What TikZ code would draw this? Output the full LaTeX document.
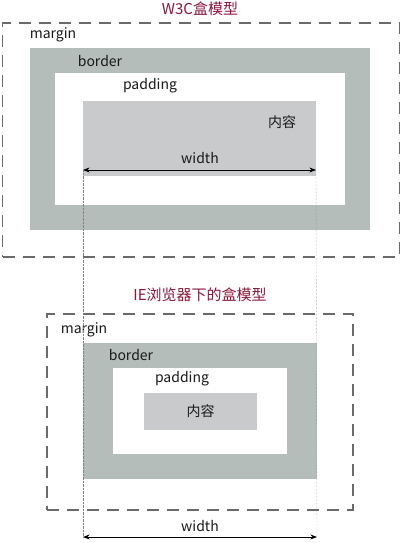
\documentclass[tikz,border=0pt]{standalone}
\usepackage{fontspec}
\setmainfont{Noto Sans CJK SC}
\usepackage{tikz}
\usetikzlibrary{positioning,calc,arrows.meta}
\definecolor{borderbg}{HTML}{b4bdb9}
\definecolor{contentbg}{HTML}{c9cacc}
\definecolor{titlered}{HTML}{8a1538}
\definecolor{dashgray}{HTML}{6a6a6a}

\begin{document}
\begin{tikzpicture}[x=1pt, y=-1pt, >=Stealth, font=\fontsize{14}{16}\selectfont]
  \useasboundingbox (0,0) rectangle (400,543);
  \tikzset{
    marginbox/.style={draw=dashgray, line width=1.3pt, dash pattern=on 12pt off 8pt, inner sep=0pt},
    borderbox/.style={fill=borderbg, inner sep=0pt},
    paddingbox/.style={fill=white, inner sep=0pt},
    contentbox/.style={fill=contentbg, inner sep=0pt},
    lbl/.style={inner sep=0pt, text=black!90},
    ttl/.style={inner sep=0pt, text=titlered, font=\fontsize{15}{17}\selectfont}
  }

  % W3C box model
  \node[ttl] (title1) at (200, 9) {W3C盒模型};
  \node[marginbox, minimum width=397, minimum height=234] (margin1) at (201, 140) {};
  \node[borderbox, minimum width=340, minimum height=182] (border1) at (200, 139) {};
  \node[paddingbox, minimum width=290, minimum height=132] (padding1) at (200, 139) {};
  \node[contentbox, minimum width=233, minimum height=75] (content1) at (199.5, 138.5) {};
  \node[lbl] (mlabel1) at (53, 35) {margin};
  \node[lbl] (blabel1) at (100, 61) {border};
  \node[lbl] (plabel1) at (150, 86) {padding};
  \node[lbl] (clabel1) at (282, 122) {内容};
  \node[lbl] (wlabel1) at (200, 158) {width};
  \coordinate (wl1) at (83, 170);
  \coordinate (wr1) at (316, 170);
  \draw[thick, <->] (wl1) -- (wr1);

  % IE box model
  \node[ttl] (title2) at (200, 295) {IE浏览器下的盒模型};
  \node[marginbox, minimum width=306, minimum height=196] (margin2) at (200, 412) {};
  \node[borderbox, minimum width=234, minimum height=136] (border2) at (200, 411) {};
  \node[paddingbox, minimum width=174, minimum height=86] (padding2) at (200, 411) {};
  \node[contentbox, minimum width=113, minimum height=37] (content2) at (200.5, 411.5) {};
  \node[lbl] (mlabel2) at (84, 330) {margin};
  \node[lbl] (blabel2) at (131, 355) {border};
  \node[lbl] (plabel2) at (182, 379) {padding};
  \node[lbl] (clabel2) at (content2) {内容};
  \node[lbl] (wlabel2) at (200, 526) {width};
  \coordinate (wl2) at (83, 537);
  \coordinate (wr2) at (317, 537);
  \draw[thick, <->] (wl2) -- (wr2);

  % dotted guides
  \draw[gray, densely dotted] (wl1) -- (wl2);
  \draw[gray, densely dotted] (wr1) -- (wr2);
\end{tikzpicture}
\end{document}
